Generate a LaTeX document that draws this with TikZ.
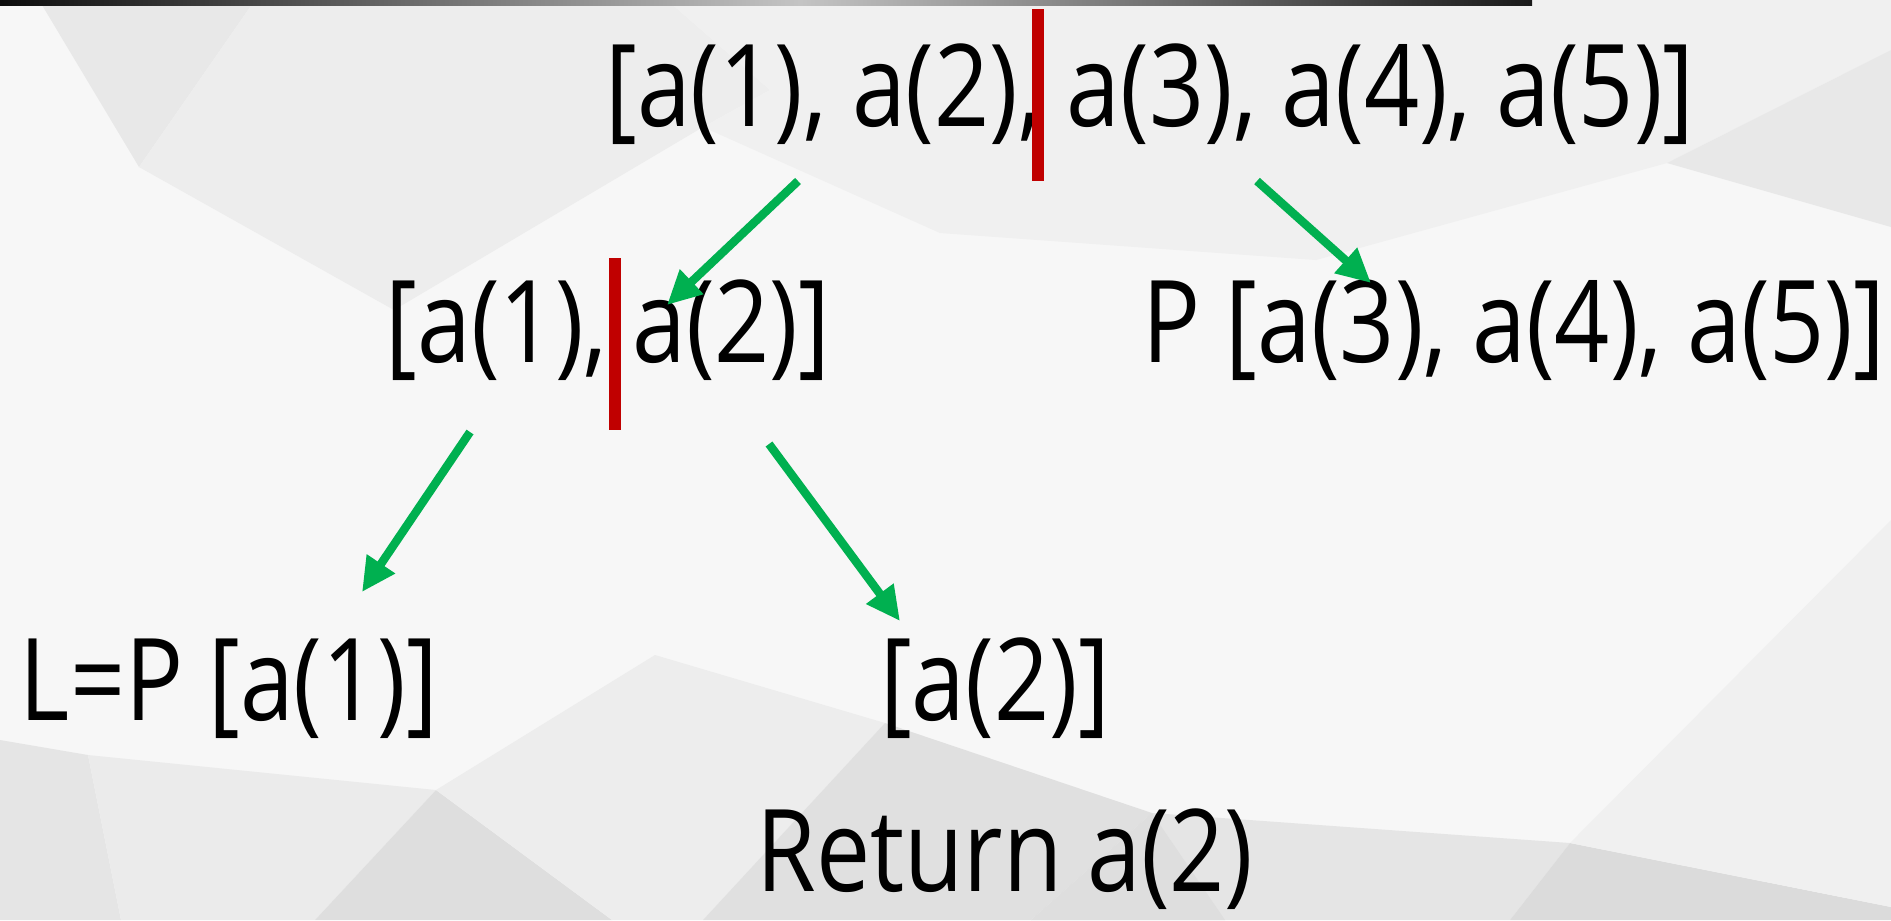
\documentclass[tikz,border=0pt]{standalone}
\usepackage{fontspec}
\newfontfamily\slidefont[FakeStretch=0.845]{Open Sans}
\usetikzlibrary{arrows.meta,positioning,calc}
\definecolor{cutred}{HTML}{C00000}
\definecolor{stepgreen}{HTML}{00B050}
\definecolor{barlight}{HTML}{C4C4C4}

\begin{document}
\begin{tikzpicture}[
  x=0.01cm, y=-0.01cm,
  lst/.style={inner sep=0pt,anchor=base,text=black,
    font=\slidefont\fontsize{32.5pt}{36pt}\selectfont},
  cut/.style={draw=cutred,line width=3.4pt},
  arrow/.style={-{Triangle[length=3.4mm,width=3.2mm]},draw=stepgreen,line width=2.4pt}
]
  \useasboundingbox (0,0) rectangle (1891,920);
  % background facets
  \fill[black!3] (0,0) rectangle (1891,920);
  \fill[black!9] (39,0) -- (255,0) -- (139,167) -- cycle;
  \fill[black!7] (139,167) -- (255,0) -- (667,0) -- (770,90) -- (703,127) -- (394,310) -- cycle;
  \fill[black!6] (770,90) -- (667,0) -- (1891,0) -- (1891,50) -- (1667,163) -- (1316,260) -- (940,233) -- (703,127) -- cycle;
  \fill[black!9] (1667,163) -- (1891,50) -- (1891,227) -- cycle;
  \fill[black!10] (0,740) -- (88,755) -- (121,920) -- (0,920) -- cycle;
  \fill[black!8] (88,755) -- (436,790) -- (315,920) -- (121,920) -- cycle;
  \fill[black!13] (436,790) -- (612,920) -- (315,920) -- cycle;
  \fill[black!7] (436,790) -- (655,655) -- (885,723) -- (703,920) -- (612,920) -- cycle;
  \fill[black!12] (885,723) -- (1152,813) -- (1031,920) -- (703,920) -- cycle;
  \fill[black!10] (1152,813) -- (1570,843) -- (1510,920) -- (1031,920) -- cycle;
  \fill[black!13] (1152,813) -- (1225,920) -- (1031,920) -- cycle;
  \fill[black!14] (1570,843) -- (1891,907) -- (1891,920) -- (1510,920) -- cycle;
  \fill[black!6] (1570,843) -- (1891,520) -- (1891,907) -- cycle;
  \shade[left color=black!95,right color=barlight] (0,0) rectangle (800,5);
  \shade[left color=barlight,right color=black!90] (800,0) rectangle (1532,5);

  % lists
  \node[lst] (full) at (1150,126) {[a(1), a(2), a(3), a(4), a(5)]};
  \node[lst] (left) at (608,362) {[a(1), a(2)]};
  \node[lst] (right) at (1514,362) {P [a(3), a(4), a(5)]};
  \node[lst] (low) at (229,720) {L=P [a(1)]};
  \node[lst] (high) at (995,720) {[a(2)]};
  \node[lst] (ret) at (1005,891) {Return a(2)};

  % split marks
  \coordinate (cut1a) at (1038,9);
  \coordinate (cut1b) at (1038,181);
  \coordinate (cut2a) at (615,258);
  \coordinate (cut2b) at (615,430);
  \draw[cut] (cut1a) -- (cut1b);
  \draw[cut] (cut2a) -- (cut2b);

  % arrow ends
  \coordinate (fa) at (798,181);
  \coordinate (fb) at (1257,181);
  \coordinate (la) at (470,432);
  \coordinate (lb) at (769,444);
  \coordinate (ta) at (667,305);
  \coordinate (tb) at (1371,283);
  \coordinate (tc) at (362,592);
  \coordinate (td) at (900,621);
  \draw[arrow] (fa) -- (ta);
  \draw[arrow] (fb) -- (tb);
  \draw[arrow] (la) -- (tc);
  \draw[arrow] (lb) -- (td);
\end{tikzpicture}
\end{document}
